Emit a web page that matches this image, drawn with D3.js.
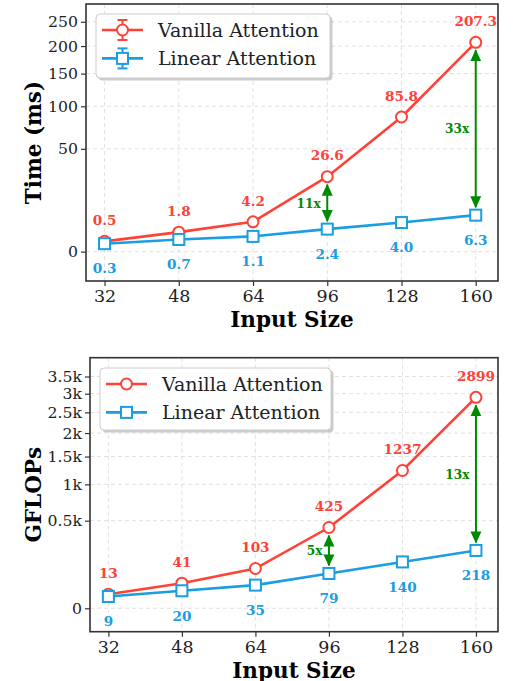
<!DOCTYPE html>
<html>
<head>
<meta charset="utf-8">
<script src="https://cdn.jsdelivr.net/npm/d3@7"></script>
<style>
  body { margin: 0; background: #fff; }
  svg { display: block; }
  text { font-family: "DejaVu Serif", serif; }
</style>
</head>
<body>
<div id="chart"></div>
<script>
// data
const inputSizes = ["32", "48", "64", "96", "128", "160"];
const vanillaTime = [0.5, 1.8, 4.2, 26.6, 85.8, 207.3];
const linearTime = [0.3, 0.7, 1.1, 2.4, 4.0, 6.3];
const vanillaFlops = [13, 41, 103, 425, 1237, 2899];
const linearFlops = [9, 20, 35, 79, 140, 218];
const timeTicks = [0, 50, 100, 150, 200, 250];
const timeTickLabels = ["0", "50", "100", "150", "200", "250"];
const flopTicks = [0, 500, 1000, 1500, 2000, 2500, 3000, 3500];
const flopTickLabels = ["0", "0.5k", "1k", "1.5k", "2k", "2.5k", "3k", "3.5k"];
const speedupIdx = [3, 5];
const timeSpeedup = ["11x", "33x"];
const flopSpeedup = ["5x", "13x"];
const seriesNames = ["Vanilla Attention", "Linear Attention"];

const RED = "#ff4136";
const BLUE = "#1a9de2";
const GREEN = "#008a00";
const FONT = '"DejaVu Serif", serif';

const W = 517, H = 681;
const svg = d3.select("#chart").append("svg")
    .attr("width", W).attr("height", H)
    .style("font-family", FONT);

const defs = svg.append("defs");
defs.append("marker")
    .attr("id", "ah")
    .attr("viewBox", "0 0 12 12")
    .attr("refX", 11).attr("refY", 6)
    .attr("markerWidth", 12).attr("markerHeight", 12)
    .attr("markerUnits", "userSpaceOnUse")
    .attr("orient", "auto-start-reverse")
    .append("path")
    .attr("d", "M0,0.5 L12,6 L0,11.5 Z")
    .attr("fill", GREEN);

function drawPanel(cfg) {
    const g = svg.append("g");
    const x = d3.scaleLinear().domain([-0.25, 5.3]).range([cfg.left, cfg.right]);
    const y = d3.scaleSqrt().domain(cfg.yDomain).range([cfg.bottom, cfg.top]);

    // grid
    const grid = g.append("g")
        .attr("stroke", "#d9d9d9")
        .attr("stroke-width", 0.8)
        .attr("stroke-dasharray", "4,3");
    grid.selectAll(".gx").data(inputSizes).enter().append("line")
        .attr("x1", (d, i) => x(i)).attr("x2", (d, i) => x(i))
        .attr("y1", cfg.top).attr("y2", cfg.bottom);
    grid.selectAll(".gy").data(cfg.ticks).enter().append("line")
        .attr("x1", cfg.left).attr("x2", cfg.right)
        .attr("y1", d => y(d)).attr("y2", d => y(d));

    // axes
    const xAxis = g.append("g")
        .attr("transform", `translate(0,${cfg.bottom})`)
        .call(d3.axisBottom(x).tickValues(d3.range(inputSizes.length))
            .tickFormat(i => inputSizes[i]).tickSize(5).tickPadding(4));
    const yAxis = g.append("g")
        .attr("transform", `translate(${cfg.left},0)`)
        .call(d3.axisLeft(y).tickValues(cfg.ticks)
            .tickFormat((d, i) => cfg.tickLabels[i]).tickSize(5).tickPadding(3));
    [xAxis, yAxis].forEach(a => {
        a.select(".domain").remove();
        a.attr("font-family", null).attr("font-size", null);
        a.selectAll(".tick line").attr("stroke", "#333").attr("stroke-width", 1.2);
        a.selectAll(".tick text").attr("fill", "#222").style("font-family", FONT);
    });
    xAxis.selectAll(".tick text").style("font-size", "17.5px");
    yAxis.selectAll(".tick text").style("font-size", "15.7px");

    g.append("rect")
        .attr("x", cfg.left).attr("y", cfg.top)
        .attr("width", cfg.right - cfg.left).attr("height", cfg.bottom - cfg.top)
        .attr("fill", "none").attr("stroke", "#333").attr("stroke-width", 1.6);

    // axis labels
    g.append("text")
        .attr("x", (cfg.left + cfg.right) / 2).attr("y", cfg.bottom + 46)
        .attr("text-anchor", "middle")
        .style("font-size", "21.5px").style("font-weight", "bold")
        .text("Input Size");
    g.append("text")
        .attr("transform", `translate(${cfg.yLabelX},${(cfg.top + cfg.bottom) / 2}) rotate(-90)`)
        .attr("text-anchor", "middle")
        .style("font-size", "21.5px").style("font-weight", "bold")
        .text(cfg.yLabel);

    const line = d3.line().x((d, i) => x(i)).y(d => y(d));

    // speedup arrows
    speedupIdx.forEach((idx, k) => {
        const y1 = y(cfg.vanilla[idx]) + 8;
        const y2 = y(cfg.linear[idx]) - 8;
        g.append("line")
            .attr("x1", x(idx)).attr("x2", x(idx))
            .attr("y1", y1).attr("y2", y2)
            .attr("stroke", GREEN).attr("stroke-width", 2)
            .attr("marker-start", "url(#ah)").attr("marker-end", "url(#ah)");
        g.append("text")
            .attr("x", x(idx) - 6.5).attr("y", (y1 + y2) / 2)
            .attr("dy", "0.35em")
            .attr("text-anchor", "end")
            .attr("fill", GREEN)
            .style("font-family", '"DejaVu Serif Condensed", "DejaVu Serif", serif')
            .style("font-size", "13.5px").style("font-weight", "bold")
            .text(cfg.speedup[k]);
    });

    // series
    const series = [
        {vals: cfg.vanilla, color: RED, shape: "circle", labels: cfg.vanillaLabels, dy: -21},
        {vals: cfg.linear, color: BLUE, shape: "square", labels: cfg.linearLabels, dy: 25}
    ];
    series.forEach(s => {
        g.append("path").datum(s.vals)
            .attr("d", line).attr("fill", "none")
            .attr("stroke", s.color).attr("stroke-width", 2.6);
    });
    series.forEach(s => {
        if (s.shape === "circle") {
            g.selectAll(null).data(s.vals).enter().append("circle")
                .attr("cx", (d, i) => x(i)).attr("cy", d => y(d)).attr("r", 5.5)
                .attr("fill", "#fff").attr("stroke", s.color).attr("stroke-width", 2);
        } else {
            g.selectAll(null).data(s.vals).enter().append("rect")
                .attr("x", (d, i) => x(i) - 5.5).attr("y", d => y(d) - 5.5)
                .attr("width", 11).attr("height", 11)
                .attr("fill", "#fff").attr("stroke", s.color).attr("stroke-width", 2);
        }
        g.selectAll(null).data(s.vals).enter().append("text")
            .attr("x", (d, i) => x(i)).attr("y", d => y(d) + s.dy)
            .attr("dy", "0.35em").attr("text-anchor", "middle")
            .attr("fill", s.color)
            .style("font-size", "13.6px").style("font-weight", "bold")
            .text((d, i) => s.labels[i]);
    });

    // legend
    const L = cfg.legend;
    g.append("rect")
        .attr("x", L.x + 2.5).attr("y", L.y + 2.5).attr("width", L.w).attr("height", L.h)
        .attr("rx", 4).attr("fill", "#999").attr("opacity", 0.5);
    g.append("rect")
        .attr("x", L.x).attr("y", L.y).attr("width", L.w).attr("height", L.h)
        .attr("rx", 4).attr("fill", "#fff").attr("stroke", "#ccc").attr("stroke-width", 1);
    series.forEach((s, i) => {
        const ly = L.y + 16 + i * 28.4;
        const hx1 = L.x + 6, hx2 = L.x + 47, mx = (hx1 + hx2) / 2;
        g.append("line").attr("x1", hx1).attr("x2", hx2).attr("y1", ly).attr("y2", ly)
            .attr("stroke", s.color).attr("stroke-width", 2.6);
        if (L.errorBars) {
            g.append("line").attr("x1", mx).attr("x2", mx).attr("y1", ly - 10).attr("y2", ly + 10)
                .attr("stroke", s.color).attr("stroke-width", 2);
            [-10, 10].forEach(o => g.append("line")
                .attr("x1", mx - 5).attr("x2", mx + 5).attr("y1", ly + o).attr("y2", ly + o)
                .attr("stroke", s.color).attr("stroke-width", 2));
        }
        if (s.shape === "circle") {
            g.append("circle").attr("cx", mx).attr("cy", ly).attr("r", 5.5)
                .attr("fill", "#fff").attr("stroke", s.color).attr("stroke-width", 2);
        } else {
            g.append("rect").attr("x", mx - 5.5).attr("y", ly - 5.5).attr("width", 11).attr("height", 11)
                .attr("fill", "#fff").attr("stroke", s.color).attr("stroke-width", 2);
        }
        g.append("text").attr("x", L.x + 62).attr("y", ly).attr("dy", "0.35em")
            .attr("fill", "#222")
            .style("font-size", "19px")
            .text(seriesNames[i]);
    });
}

drawPanel({
    left: 86, right: 498, top: 4, bottom: 281,
    yDomain: [-4.08, 290.2],
    ticks: timeTicks, tickLabels: timeTickLabels,
    vanilla: vanillaTime, linear: linearTime,
    vanillaLabels: vanillaTime.map(d => d.toFixed(1)),
    linearLabels: linearTime.map(d => d.toFixed(1)),
    speedup: timeSpeedup,
    yLabel: "Time (ms)", yLabelX: 41,
    legend: {x: 96, y: 14, w: 234, h: 64, errorBars: true}
});

drawPanel({
    left: 90, right: 498, top: 357.7, bottom: 631.7,
    yDomain: [-35.7, 4091],
    ticks: flopTicks, tickLabels: flopTickLabels,
    vanilla: vanillaFlops, linear: linearFlops,
    vanillaLabels: vanillaFlops.map(String),
    linearLabels: linearFlops.map(String),
    speedup: flopSpeedup,
    yLabel: "GFLOPs", yLabelX: 41,
    legend: {x: 100, y: 368, w: 231, h: 62, errorBars: false}
});
</script>
</body>
</html>
